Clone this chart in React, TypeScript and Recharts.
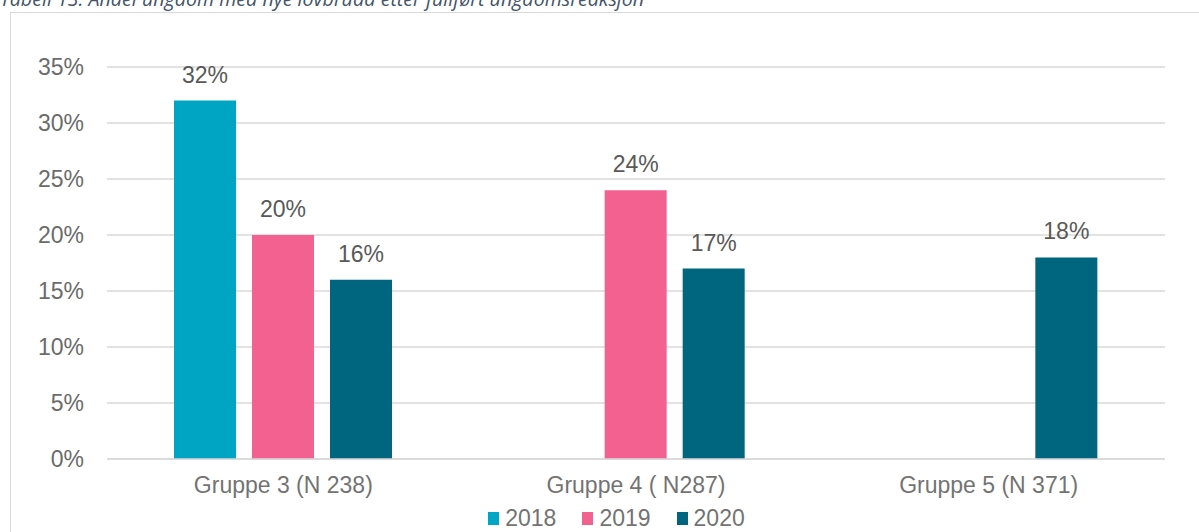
import React from "react";
import { BarChart, Bar, XAxis, YAxis, CartesianGrid, Legend, LabelList } from "recharts";

const categories = ["Gruppe 3 (N 238)", "Gruppe 4 ( N287)", "Gruppe 5 (N 371)"];
const series2018: (number | null)[] = [32, null, null];
const series2019: (number | null)[] = [20, 24, null];
const series2020: (number | null)[] = [16, 17, 18];
const yTicks = [0, 5, 10, 15, 20, 25, 30, 35];
const seriesKeys = ["2018", "2019", "2020"];
const colors = ["#00A5C4", "#F36190", "#00657F"];

const data = categories.map((c, i) => ({
  name: c,
  "2018": series2018[i],
  "2019": series2019[i],
  "2020": series2020[i],
}));

const FONT = "'Liberation Sans', Arial, sans-serif";
const LABEL_GRAY = "#595959";
const TICK_GRAY = "#6B6B6B";
const CAT_GRAY = "#737373";

const renderLegend = () => (
  <div style={{ display: "flex", justifyContent: "center", alignItems: "center", fontFamily: FONT, fontSize: 23, color: CAT_GRAY, height: 28, paddingLeft: 68 }}>
    {seriesKeys.map((k, i) => (
      <div key={k} style={{ display: "flex", alignItems: "center", marginLeft: i === 0 ? 0 : 26 }}>
        <span style={{ display: "inline-block", width: 11, height: 13, background: colors[i], marginRight: 6 }} />
        <span>{k}</span>
      </div>
    ))}
  </div>
);

export default function App() {
  return (
    <div style={{ position: "absolute", left: 0, top: 0, width: 1199, height: 532, overflow: "hidden", background: "#fff" }}>
      <div style={{ position: "absolute", left: 0, top: -11, lineHeight: "20px", fontFamily: "'Open Sans', 'Noto Sans', sans-serif", fontStyle: "italic", fontSize: 19.6, color: "#44546A", whiteSpace: "nowrap" }}>
        Tabell 13: Andel ungdom med nye lovbrudd etter fullført ungdomsreaksjon
      </div>
      <div style={{ position: "absolute", left: 10, top: 12, width: 1300, height: 600, border: "1.5px solid #D9D9D9", boxSizing: "border-box" }} />
      <div style={{ position: "absolute", left: 0, top: 0 }}>
        <BarChart
          width={1199}
          height={532}
          data={data}
          margin={{ top: 67, right: 34, left: 0, bottom: 0 }}
          barGap={16}
          barCategoryGap="19%"
        >
          <CartesianGrid vertical={false} stroke="#D9D9D9" strokeWidth={1.5} />
          <XAxis
            dataKey="name"
            height={45}
            tickLine={false}
            axisLine={{ stroke: "#D9D9D9", strokeWidth: 1.5 }}
            tickSize={0}
            tickMargin={18}
            tick={{ fill: CAT_GRAY, fontSize: 23, fontFamily: FONT }}
          />
          <YAxis
            width={107}
            domain={[0, 35]}
            ticks={yTicks}
            tickFormatter={(v: number) => `${v}%`}
            axisLine={false}
            tickLine={false}
            tickSize={0}
            tickMargin={23}
            tick={{ fill: TICK_GRAY, fontSize: 23, fontFamily: FONT }}
          />
          <Legend verticalAlign="bottom" height={28} content={renderLegend} />
          {seriesKeys.map((k, i) => (
            <Bar key={k} dataKey={k} fill={colors[i]} isAnimationActive={false}>
              <LabelList
                dataKey={k}
                position="top"
                offset={18}
                formatter={(v: any) => (v == null ? "" : `${v}%`)}
                style={{ fill: LABEL_GRAY, fontSize: 23, fontFamily: FONT }}
              />
            </Bar>
          ))}
        </BarChart>
      </div>
    </div>
  );
}
